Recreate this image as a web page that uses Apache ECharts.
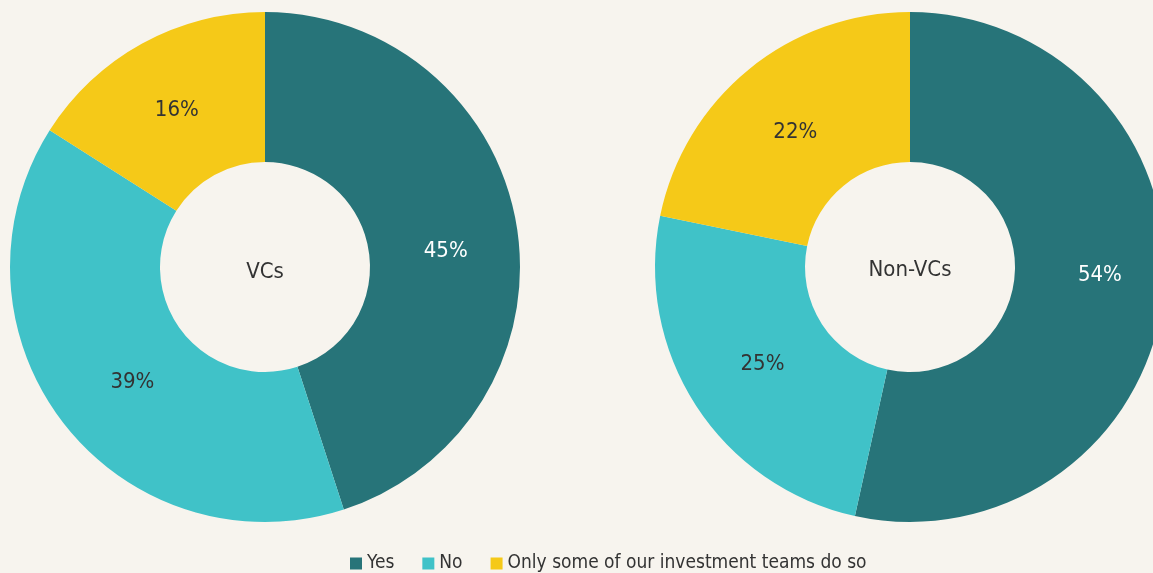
<!DOCTYPE html>
<html><head><meta charset="utf-8">
<script src="https://cdn.jsdelivr.net/npm/echarts@6/dist/echarts.min.js"></script>
<style>html,body{margin:0;padding:0;background:#f7f4ee;}#c{width:1153px;height:573px;}</style>
</head><body><div id="c"></div>
<script>
const categories = ['Yes', 'No', 'Only some of our investment teams do so'];
const vcValues = [45, 39, 16];
const nonVcValues = [54, 25, 22];
const groupNames = ['VCs', 'Non-VCs'];

// styles
const colors = ['#277479', '#40c2c8', '#f5c918'];
const labelColors = ['#ffffff', '#333333', '#333333'];
const vcLabelOffsets = [[0, 13], [12, 3], [0, 4]];
const nonVcLabelOffsets = [[8, -12], [6, -2], [1, 7]];
const FONT = '"Liberation Sans Narrow", "DejaVu Sans Condensed", sans-serif';

function mk(values, offsets) {
  return values.map((v, i) => ({
    name: categories[i], value: v,
    itemStyle: { color: colors[i] },
    label: { color: labelColors[i], offset: offsets[i] }
  }));
}
function series(values, cx, offsets) {
  return {
    type: 'pie', center: [cx, 267], radius: [105, 255], startAngle: 90,
    clockwise: true, avoidLabelOverlap: false, animation: false,
    label: { show: true, position: 'inside', formatter: '{c}%', fontSize: 22, fontFamily: FONT },
    labelLine: { show: false },
    itemStyle: { borderWidth: 0 },
    emphasis: { disabled: true },
    data: mk(values, offsets)
  };
}
const chart = echarts.init(document.getElementById('c'));
chart.setOption({
  backgroundColor: '#f7f4ee',
  textStyle: { fontFamily: FONT },
  legend: {
    bottom: -5, left: 345, icon: 'rect', itemWidth: 12, itemHeight: 12, itemGap: 28,
    textStyle: { fontSize: 19, color: '#333', fontFamily: FONT },
    data: categories
  },
  graphic: [
    { type: 'text', x: 265, y: 272, style: { text: groupNames[0], fontSize: 22, fontFamily: FONT, fill: '#333', align: 'center', verticalAlign: 'middle' } },
    { type: 'text', x: 910, y: 270, style: { text: groupNames[1], fontSize: 22, fontFamily: FONT, fill: '#333', align: 'center', verticalAlign: 'middle' } }
  ],
  series: [series(vcValues, 265, vcLabelOffsets), series(nonVcValues, 910, nonVcLabelOffsets)]
});
</script></body></html>
